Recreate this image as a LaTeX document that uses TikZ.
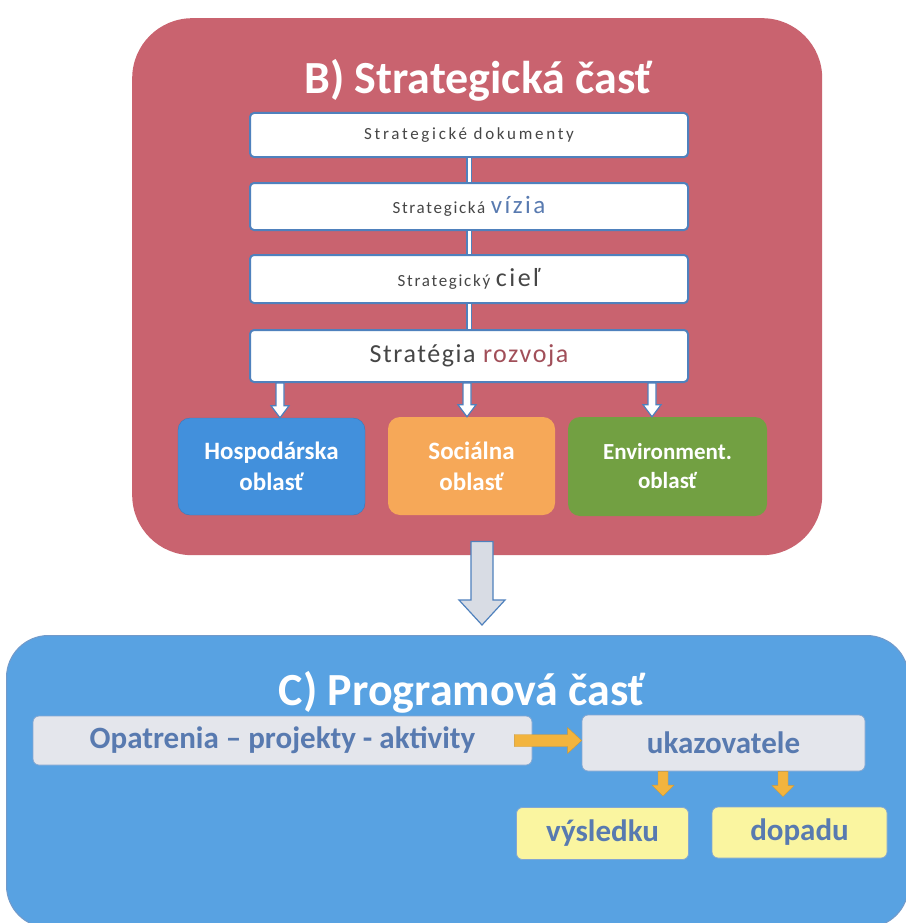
\documentclass[tikz,border=0pt]{standalone}
\usepackage{fontspec}
\setmainfont{Carlito}
\usetikzlibrary{calc}
\definecolor{redbg}{RGB}{201,99,111}
\definecolor{bluebg}{RGB}{88,162,226}
\definecolor{boxline}{RGB}{79,129,189}
\definecolor{hospc}{RGB}{66,144,220}
\definecolor{socc}{RGB}{246,168,88}
\definecolor{envc}{RGB}{114,160,66}
\definecolor{grayfill}{RGB}{228,230,236}
\definecolor{txtblue}{RGB}{88,122,176}
\definecolor{yelfill}{RGB}{250,245,160}
\definecolor{orarrow}{RGB}{242,180,62}
\definecolor{darktxt}{RGB}{70,70,70}
\definecolor{arrgray}{RGB}{216,220,228}
\tikzset{
  panel/.style={anchor=north west, rounded corners=60pt, inner sep=0pt},
  ptitle/.style={text=white, font=\bfseries\fontsize{46}{50}\selectfont},
  wbox/.style={draw=boxline, line width=2pt, fill=white, rounded corners=4pt, minimum width=438pt, text=darktxt, inner sep=0pt},
  cbox/.style={rounded corners=12pt, text=white, align=center, font=\bfseries\fontsize{25}{31}\selectfont, inner sep=0pt},
  gbox/.style={draw=boxline!70, line width=0.8pt, fill=grayfill, rounded corners=6pt, text=txtblue, font=\bfseries\fontsize{31}{34}\selectfont, inner sep=0pt},
  ybox/.style={draw=boxline!70, line width=0.8pt, fill=yelfill, rounded corners=6pt, text=txtblue, font=\bfseries\fontsize{31}{34}\selectfont, inner sep=0pt},
  link/.style={draw=boxline, line width=1.2pt, double=white, double distance=3pt},
  downblk/.style n args={3}{to path={let \p1=(\tikztostart), \p2=(\tikztotarget) in
     (\x1-#1,\y1) -- (\x1+#1,\y1) -- (\x1+#1,\y2+#3) -- (\x1+#2,\y2+#3) -- (\x1,\y2) -- (\x1-#2,\y2+#3) -- (\x1-#1,\y2+#3) -- cycle}},
  rightblk/.style n args={3}{to path={let \p1=(\tikztostart), \p2=(\tikztotarget) in
     (\x1,\y1-#1) -- (\x1,\y1+#1) -- (\x2-#3,\y1+#1) -- (\x2-#3,\y1+#2) -- (\x2,\y1) -- (\x2-#3,\y1-#2) -- (\x2-#3,\y1-#1) -- cycle}},
  whitearrow/.style={draw=boxline, line width=1.2pt, fill=white, line join=miter},
  grayarrow/.style={draw=boxline, line width=1.2pt, fill=arrgray, line join=miter},
  orarr/.style={fill=orarrow, draw=orarrow!85!black, line width=0.4pt}
}
\begin{document}
\begin{tikzpicture}[x=1pt,y=-1pt]
\useasboundingbox (0,0) rectangle (905,923);
\fill[white] (0,0) rectangle (905,923);

% panels
\node[panel, fill=redbg, minimum width=690pt, minimum height=537pt] (B) at (132,18) {};
\node[panel, fill=bluebg, draw=boxline!80, line width=1pt, rounded corners=42pt, minimum width=902pt, minimum height=292pt] (C) at (6,635) {};

\node[ptitle] (Bt) at (478,80) {B) Strategická časť};
\node[ptitle] (Ct) at (462,692) {C) Programová časť};

% strategic boxes
\node[wbox, minimum height=44pt] (s1) at (469,135) {\fontsize{17}{19}\selectfont\addfontfeature{LetterSpace=16}Strategické dokumenty};
\node[wbox, minimum height=47pt] (s2) at (469,206.5) {\fontsize{17}{19}\selectfont\addfontfeature{LetterSpace=10}Strategická {\fontsize{25}{27}\selectfont\color{txtblue}vízia}};
\node[wbox, minimum height=48pt] (s3) at (469,279) {\fontsize{17}{19}\selectfont\addfontfeature{LetterSpace=10}Strategický {\fontsize{26}{28}\selectfont cieľ}};
\node[wbox, minimum height=52pt] (s4) at (469,356) {\fontsize{26}{28}\selectfont\addfontfeature{LetterSpace=6}Stratégia {\color{redbg!80!black}rozvoja}};

\draw[link] (s1.south) -- (s2.north);
\draw[link] (s2.south) -- (s3.north);
\draw[link] (s3.south) -- (s4.north);

% areas
\node[cbox, fill=hospc, draw=hospc!85!black, minimum width=187pt, minimum height=97pt] (hosp) at (271.5,466.5) {Hospodárska\\oblasť};
\node[cbox, fill=socc, minimum width=167pt, minimum height=98pt] (soc) at (471.5,466) {Sociálna\\oblasť};
\node[cbox, fill=envc, minimum width=199pt, minimum height=99pt, font=\bfseries\fontsize{23}{29}\selectfont] (env) at (667.5,466.5) {Environment.\\oblasť};

\coordinate (a1) at (280,0);
\coordinate (a2) at (467,0);
\coordinate (a3) at (652,0);
\draw[whitearrow] (s4.south -| a1) to[downblk={4pt}{9pt}{12pt}] (hosp.north -| a1);
\draw[whitearrow] (s4.south -| a2) to[downblk={4pt}{9pt}{12pt}] (soc.north -| a2);
\draw[whitearrow] (s4.south -| a3) to[downblk={4pt}{9pt}{12pt}] (env.north -| a3);

% big arrow
\coordinate (ax) at (482,0);
\draw[grayarrow] ([yshift=14pt]B.south -| ax) to[downblk={11pt}{23pt}{25pt}] ([yshift=10pt]C.north -| ax);

% programme part
\node[gbox, minimum width=499pt, minimum height=49pt] (op) at (282.5,740.5) {Opatrenia – projekty - aktivity};
\node[gbox, minimum width=283pt, minimum height=56pt] (uk) at (723.5,743) {ukazovatele};
\node[ybox, minimum width=172pt, minimum height=52pt] (vy) at (602.5,833.5) {výsledku};
\node[ybox, minimum width=175pt, minimum height=51pt] (dop) at (799.5,832.5) {dopadu};

\draw[orarr] ([xshift=-18pt]op.east) to[rightblk={6pt}{13pt}{14pt}] (uk.west);
\coordinate (b1) at (663,0);
\coordinate (b2) at (783,0);
\draw[orarr] (uk.south -| b1) to[downblk={5pt}{11pt}{11pt}] ([yshift=11pt]vy.north -| b1);
\draw[orarr] (uk.south -| b2) to[downblk={5pt}{11pt}{11pt}] ([yshift=10pt]dop.north -| b2);
\end{tikzpicture}
\end{document}
